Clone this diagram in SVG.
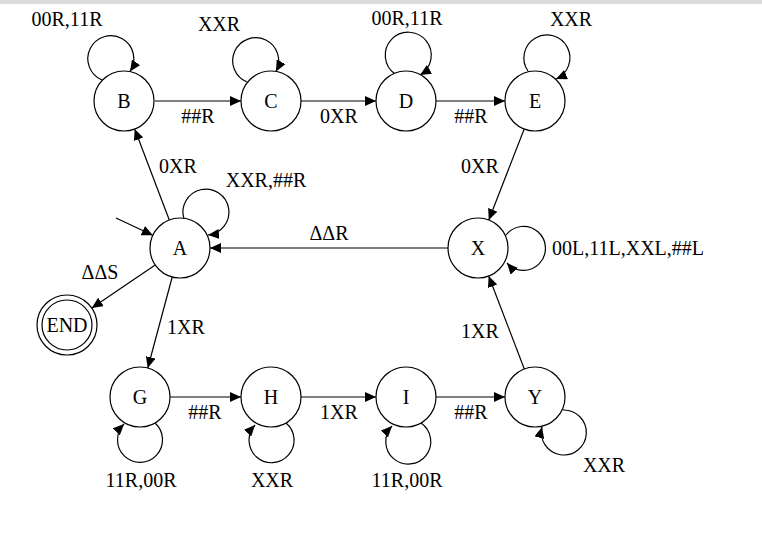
<svg xmlns="http://www.w3.org/2000/svg" width="762" height="538" viewBox="0 0 762 538">
<style>
.n{fill:#fff;stroke:#000;stroke-width:1.2}
.e{fill:none;stroke:#000;stroke-width:1.2;marker-end:url(#ah)}
text{font-family:"Liberation Serif","Times New Roman",serif;font-size:20px;fill:#000}
.c{text-anchor:middle}
</style>
<defs>
<marker id="ah" markerUnits="userSpaceOnUse" markerWidth="12" markerHeight="10" refX="11" refY="5" orient="auto">
<path d="M0,0 L11,5 L0,10 Z" fill="#000"/>
</marker>
</defs>
<rect x="0" y="0" width="762" height="538" fill="#fff"/>
<rect x="0" y="0" width="762" height="4" fill="#dcdcdc"/>
<g id="connectors">
<path class="e" d="M155,101 L241,101"/>
<path class="e" d="M301,101 L376,101"/>
<path class="e" d="M436,101 L505,101"/>
<path class="e" d="M524.2,129 L488.8,220"/>
<path class="e" d="M448,248 L210,248"/>
<path class="e" d="M169.3,220 L134.7,129"/>
<path class="e" d="M155.2,264.9 L91.8,308.1"/>
<path class="e" d="M172.2,277 L147.8,368"/>
<path class="e" d="M170,397 L241,397"/>
<path class="e" d="M301,397 L376,397"/>
<path class="e" d="M436,397 L505,397"/>
<path class="e" d="M524.3,369 L488.7,276"/>
<path class="e" d="M116,218 L152.8,235.3"/>
<path class="e" d="M102,80 A23,23 0 1 1 130,71.5"/>
<path class="e" d="M247,82 A23,23 0 1 1 276,71.5"/>
<path class="e" d="M395,74 A23,23 0 1 1 420,75"/>
<path class="e" d="M528,71 A23,23 0 1 1 556,79"/>
<path class="e" d="M184,219 A23,23 0 1 1 208,235"/>
<path class="e" d="M506,235 A22,22 0 1 1 507,263"/>
<path class="e" d="M155,423 A22.5,22.5 0 1 1 124,424"/>
<path class="e" d="M286,423 A22.5,22.5 0 1 1 255,425"/>
<path class="e" d="M421,423 A22.5,22.5 0 1 1 392,426"/>
<path class="e" d="M563,410 A22.5,22.5 0 1 1 542,427"/>
<text class="c" x="198" y="123">##R</text>
<text class="c" x="339" y="123">0XR</text>
<text class="c" x="471" y="123">##R</text>
<text class="c" x="480" y="173">0XR</text>
<text class="c" x="329" y="240">ΔΔR</text>
<text class="c" x="178" y="173">0XR</text>
<text class="c" x="100" y="279">ΔΔS</text>
<text class="c" x="186" y="334">1XR</text>
<text class="c" x="205" y="419">##R</text>
<text class="c" x="339" y="419">1XR</text>
<text class="c" x="471" y="419">##R</text>
<text class="c" x="480" y="338">1XR</text>
<text class="c" x="67" y="26">00R,11R</text>
<text class="c" x="219" y="31">XXR</text>
<text class="c" x="407" y="25">00R,11R</text>
<text class="c" x="571" y="26">XXR</text>
<text class="c" x="266" y="187">XXR,##R</text>
<text x="552" y="255">00L,11L,XXL,##L</text>
<text class="c" x="141" y="487">11R,00R</text>
<text class="c" x="272" y="487">XXR</text>
<text class="c" x="407" y="487">11R,00R</text>
<text class="c" x="604" y="472">XXR</text>
</g>
<g id="node-B"><circle class="n" cx="124" cy="101" r="30"/><text class="c" x="124" y="108">B</text></g>
<g id="node-C"><circle class="n" cx="271" cy="101" r="30"/><text class="c" x="271" y="108">C</text></g>
<g id="node-D"><circle class="n" cx="406" cy="101" r="30"/><text class="c" x="406" y="108">D</text></g>
<g id="node-E"><circle class="n" cx="535" cy="101" r="30"/><text class="c" x="535" y="108">E</text></g>
<g id="node-A"><circle class="n" cx="180" cy="248" r="30"/><text class="c" x="180" y="255">A</text></g>
<g id="node-X"><circle class="n" cx="478" cy="248" r="30"/><text class="c" x="478" y="255">X</text></g>
<g id="node-END"><circle class="n" cx="67" cy="325" r="30"/><circle class="n" cx="67" cy="325" r="25"/><text class="c" x="67" y="332">END</text></g>
<g id="node-G"><circle class="n" cx="140" cy="397" r="30"/><text class="c" x="140" y="404">G</text></g>
<g id="node-H"><circle class="n" cx="271" cy="397" r="30"/><text class="c" x="271" y="404">H</text></g>
<g id="node-I"><circle class="n" cx="406" cy="397" r="30"/><text class="c" x="406" y="404">I</text></g>
<g id="node-Y"><circle class="n" cx="535" cy="397" r="30"/><text class="c" x="535" y="404">Y</text></g>
</svg>
